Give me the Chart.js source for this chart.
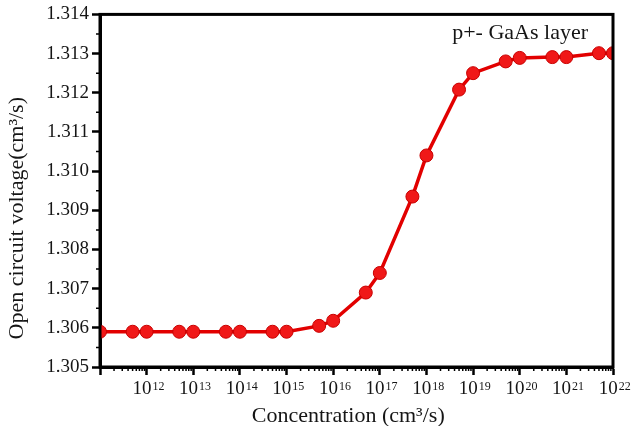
<!DOCTYPE html>
<html>
<head>
<meta charset="utf-8">
<script src="https://cdn.jsdelivr.net/npm/chart.js@4.4.1/dist/chart.umd.min.js"></script>
<style>
  html, body { margin: 0; padding: 0; background: #ffffff; }
  #wrap { width: 631px; height: 426px; position: relative; }
</style>
</head>
<body>
<div id="wrap"><canvas id="voc-chart"></canvas></div>
<script>
// Open circuit voltage vs doping concentration (p+ GaAs layer)
const concentration = [1e11, 5e11, 1e12, 5e12, 1e13, 5e13, 1e14, 5e14, 1e15, 5e15, 1e16, 5e16,
    1e17, 5e17, 1e18, 5e18, 1e19, 5e19, 1e20, 5e20, 1e21, 5e21, 1e22];
const voltage = [1.3059, 1.3059, 1.3059, 1.3059, 1.3059, 1.3059, 1.3059, 1.3059, 1.3059,
    1.30605, 1.30618, 1.3069, 1.3074, 1.30935, 1.3104, 1.31208, 1.3125, 1.3128, 1.31289,
    1.31291, 1.31291, 1.31301, 1.31301];
const xDecades = [11, 12, 13, 14, 15, 16, 17, 18, 19, 20, 21, 22];
const yTickLabels = ['1.305', '1.306', '1.307', '1.308', '1.309', '1.310', '1.311', '1.312', '1.313', '1.314'];

const SERIF = "'Liberation Serif', 'DejaVu Serif', serif";
const TEXT = '#151515';

const isDecade = v => Math.abs(Math.log10(v) - Math.round(Math.log10(v))) < 1e-9;
const isMajorY = v => Math.abs(v * 1000 - Math.round(v * 1000)) < 1e-6;
const isMajor = (scale, v) => (scale.axis === 'x' ? isDecade(v) : isMajorY(v));

// frame, short minor ticks, exponents of the x labels and the inner label
const framePlugin = {
    id: 'frame',
    afterDraw(chart) {
        const { ctx, chartArea: a } = chart;
        const xs = chart.scales.x, ys = chart.scales.y;
        ctx.save();
        ctx.strokeStyle = '#000';
        ctx.lineWidth = 3;
        ctx.strokeRect(a.left, a.top, a.right - a.left, a.bottom - a.top);

        // minor ticks
        ctx.lineWidth = 1.5;
        ctx.beginPath();
        xs.ticks.forEach(t => {
            if (isDecade(t.value)) return;
            const px = xs.getPixelForValue(t.value);
            ctx.moveTo(px, a.bottom);
            ctx.lineTo(px, a.bottom + 4);
        });
        ys.ticks.forEach(t => {
            if (isMajorY(t.value)) return;
            const py = ys.getPixelForValue(t.value);
            ctx.moveTo(a.left, py);
            ctx.lineTo(a.left - 4, py);
        });
        ctx.stroke();

        // superscript exponents after the "10" tick labels
        ctx.fillStyle = TEXT;
        ctx.font = `19px ${SERIF}`;
        const baseW = ctx.measureText('10').width;
        const padW = ctx.measureText('10  ').width;
        ctx.font = `12px ${SERIF}`;
        ctx.textAlign = 'left';
        ctx.textBaseline = 'top';
        xs.ticks.forEach(t => {
            if (!isDecade(t.value)) return;
            const e = Math.round(Math.log10(t.value));
            if (e < 12) return;
            const px = xs.getPixelForValue(t.value);
            ctx.fillText(String(e), px - padW / 2 + baseW + 1, a.bottom + 14);
        });

        ctx.font = `22px ${SERIF}`;
        ctx.textAlign = 'right';
        ctx.textBaseline = 'middle';
        ctx.fillText('p+- GaAs layer', a.right - 25, a.top + 19);
        ctx.restore();
    }
};

const ctx = document.getElementById('voc-chart').getContext('2d');
new Chart(ctx, {
    type: 'line',
    data: {
        datasets: [{
            label: 'Voc',
            data: concentration.map((c, i) => ({ x: c, y: voltage[i] })),
            borderColor: '#e20000',
            borderWidth: 3.5,
            pointRadius: 6.5,
            pointBackgroundColor: '#f01818',
            pointBorderColor: '#c80000',
            pointBorderWidth: 1,
            tension: 0,
        }]
    },
    options: {
        responsive: true,
        maintainAspectRatio: false,
        animation: false,
        layout: { padding: { top: 12, right: 18, left: 0, bottom: 0 } },
        plugins: { legend: { display: false }, tooltip: { enabled: false } },
        scales: {
            x: {
                type: 'logarithmic',
                min: 1e11,
                max: 1e22,
                afterBuildTicks: scale => {
                    const ticks = [];
                    xDecades.forEach(d => {
                        for (let k = 1; k <= 9; k++) {
                            if (d === 22 && k > 1) break;
                            ticks.push({ value: k * Math.pow(10, d) });
                        }
                    });
                    scale.ticks = ticks;
                },
                afterFit: scale => { scale.height = 59; },
                border: { display: true, color: '#000', width: 3 },
                grid: {
                    drawOnChartArea: false,
                    drawTicks: true,
                    tickLength: 8,
                    tickWidth: 2.5,
                    tickColor: c => (c.tick && isDecade(c.tick.value) ? '#000' : 'rgba(0,0,0,0)'),
                },
                ticks: {
                    autoSkip: false,
                    maxRotation: 0,
                    padding: 3,
                    color: TEXT,
                    font: { family: SERIF, size: 19 },
                    callback: v => {
                        if (!isDecade(v)) return '';
                        return Math.round(Math.log10(v)) >= 12 ? '10  ' : '';
                    }
                },
                title: {
                    display: true,
                    text: 'Concentration (cm³/s)   ',
                    color: TEXT,
                    font: { family: SERIF, size: 22, lineHeight: 0.9 },
                    padding: { top: 0, bottom: 0 }
                }
            },
            y: {
                min: 1.305,
                max: 1.314,
                afterBuildTicks: scale => {
                    const ticks = [];
                    yTickLabels.forEach((t, i) => {
                        ticks.push({ value: parseFloat(t) });
                        if (i < yTickLabels.length - 1) ticks.push({ value: parseFloat(t) + 0.0005 });
                    });
                    scale.ticks = ticks;
                },
                afterFit: scale => { scale.width = 100; },
                border: { display: true, color: '#000', width: 3 },
                grid: {
                    drawOnChartArea: false,
                    drawTicks: true,
                    tickLength: 8,
                    tickWidth: 2.5,
                    tickColor: c => (c.tick && isMajorY(c.tick.value) ? '#000' : 'rgba(0,0,0,0)'),
                },
                ticks: {
                    autoSkip: false,
                    padding: 3,
                    color: TEXT,
                    font: { family: SERIF, size: 19 },
                    callback: v => (isMajorY(v) ? v.toFixed(3) : '')
                },
                title: {
                    display: true,
                    text: 'Open circuit voltage(cm³/s)          ',
                    color: TEXT,
                    font: { family: SERIF, size: 22 },
                    padding: { top: 4, bottom: 0 }
                }
            }
        }
    },
    plugins: [framePlugin]
});
</script>
</body>
</html>
